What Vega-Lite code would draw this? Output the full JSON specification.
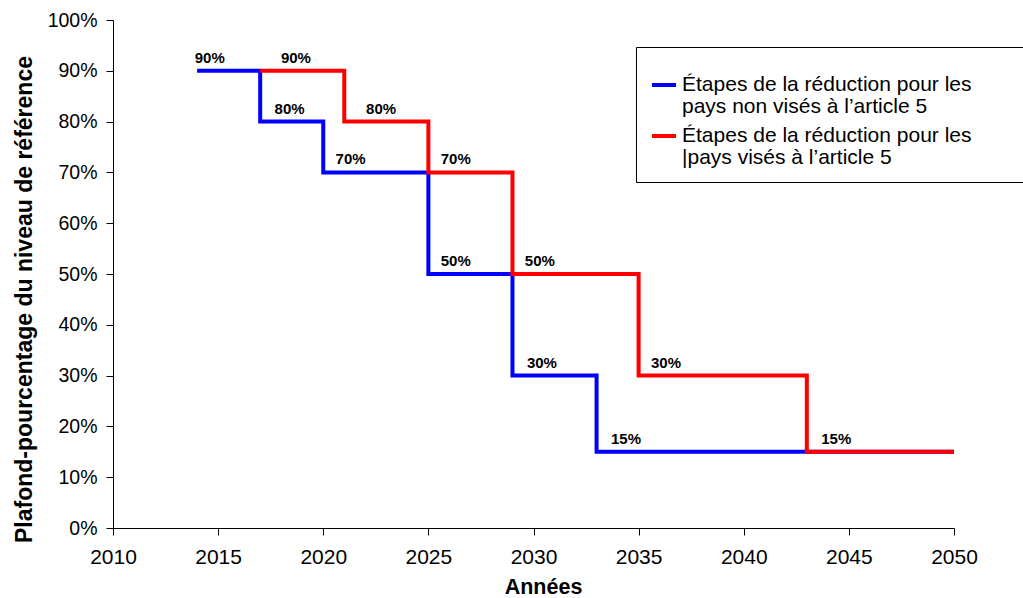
{
  "$schema": "https://vega.github.io/schema/vega-lite/v6.json",
  "width": 841,
  "height": 508,
  "autosize": "none",
  "padding": {"left": 113, "top": 20, "right": 69, "bottom": 70},
  "background": "white",
  "config": {
    "view": {"stroke": null},
    "font": "Liberation Sans",
    "style": {"guide-label": {"lineHeight": 22}},
    "axis": {
      "grid": false,
      "domainColor": "black",
      "tickColor": "black",
      "labelColor": "black",
      "titleColor": "black",
      "labelFont": "Liberation Sans",
      "titleFont": "Liberation Sans",
      "titleFontWeight": "bold",
      "tickSize": 7,
      "labelFlush": false,
      "labelOverlap": false
    }
  },
  "datasets": {
    "steps": [
      {"series": "Étapes de la réduction pour les\npays non visés à l’article 5", "year": 2014, "value": 0.9},
      {"series": "Étapes de la réduction pour les\npays non visés à l’article 5", "year": 2017, "value": 0.8},
      {"series": "Étapes de la réduction pour les\npays non visés à l’article 5", "year": 2020, "value": 0.7},
      {"series": "Étapes de la réduction pour les\npays non visés à l’article 5", "year": 2025, "value": 0.5},
      {"series": "Étapes de la réduction pour les\npays non visés à l’article 5", "year": 2029, "value": 0.3},
      {"series": "Étapes de la réduction pour les\npays non visés à l’article 5", "year": 2033, "value": 0.15},
      {"series": "Étapes de la réduction pour les\npays non visés à l’article 5", "year": 2050, "value": 0.15},
      {"series": "Étapes de la réduction pour les\n|pays visés à l’article 5", "year": 2017, "value": 0.9},
      {"series": "Étapes de la réduction pour les\n|pays visés à l’article 5", "year": 2021, "value": 0.8},
      {"series": "Étapes de la réduction pour les\n|pays visés à l’article 5", "year": 2025, "value": 0.7},
      {"series": "Étapes de la réduction pour les\n|pays visés à l’article 5", "year": 2029, "value": 0.5},
      {"series": "Étapes de la réduction pour les\n|pays visés à l’article 5", "year": 2035, "value": 0.3},
      {"series": "Étapes de la réduction pour les\n|pays visés à l’article 5", "year": 2043, "value": 0.15},
      {"series": "Étapes de la réduction pour les\n|pays visés à l’article 5", "year": 2050, "value": 0.15}
    ],
    "labels": [
      {"labelYear": 2014.6, "value": 0.9},
      {"labelYear": 2018.4, "value": 0.8},
      {"labelYear": 2021.3, "value": 0.7},
      {"labelYear": 2026.3, "value": 0.5},
      {"labelYear": 2030.4, "value": 0.3},
      {"labelYear": 2034.4, "value": 0.15},
      {"labelYear": 2018.7, "value": 0.9},
      {"labelYear": 2022.75, "value": 0.8},
      {"labelYear": 2026.3, "value": 0.7},
      {"labelYear": 2030.3, "value": 0.5},
      {"labelYear": 2036.3, "value": 0.3},
      {"labelYear": 2044.4, "value": 0.15}
    ]
  },
  "layer": [
    {
      "data": {"name": "steps"},
      "mark": {"type": "line", "interpolate": "step-after", "strokeWidth": 4},
      "encoding": {
        "x": {
          "field": "year", "type": "quantitative",
          "scale": {"domain": [2010, 2050], "nice": false, "zero": false},
          "axis": {
            "title": "Années",
            "values": [2010, 2015, 2020, 2025, 2030, 2035, 2040, 2045, 2050],
            "format": "d",
            "labelFontSize": 21,
            "labelPadding": 11,
            "titleFontSize": 21.5,
            "titlePadding": 9,
            "titleX": 430
          }
        },
        "y": {
          "field": "value", "type": "quantitative",
          "scale": {"domain": [0, 1], "nice": false},
          "axis": {
            "title": "Plafond-pourcentage du niveau de référence",
            "values": [0, 0.1, 0.2, 0.3, 0.4, 0.5, 0.6, 0.7, 0.8, 0.9, 1],
            "format": ".0%",
            "labelFontSize": 19.5,
            "labelPadding": 9,
            "titleFontSize": 23,
            "titlePadding": 11,
            "titleY": 279
          }
        },
        "color": {
          "field": "series", "type": "nominal",
          "scale": {
            "domain": ["Étapes de la réduction pour les\npays non visés à l’article 5", "Étapes de la réduction pour les\n|pays visés à l’article 5"],
            "range": ["#0000FF", "#FF0000"]
          },
          "legend": {
            "orient": "none",
            "legendX": 523,
            "legendY": 27,
            "title": "\u2800",
            "titleFontSize": 6,
            "titlePadding": 4,
            "strokeColor": "black",
            "fillColor": "white",
            "padding": 14,
            "labelFontSize": 21,
            "labelFont": "Liberation Sans",
            "labelColor": "black",
            "labelLimit": 0,
            "labelExpr": "[split(datum.label, '\\n')[0] + '\u2800\u2800\u2800', split(datum.label, '\\n')[1]]",
            "labelBaseline": "middle",
            "symbolType": "stroke",
            "symbolStrokeWidth": 4,
            "symbolSize": 576,
            "labelOffset": 4,
            "rowPadding": 5
          }
        }
      }
    },
    {
      "data": {"name": "labels"},
      "mark": {"type": "text", "fontWeight": "bold", "fontSize": 15, "baseline": "alphabetic", "dy": -8, "color": "black"},
      "encoding": {
        "x": {"field": "labelYear", "type": "quantitative"},
        "y": {"field": "value", "type": "quantitative"},
        "text": {"field": "value", "type": "quantitative", "format": ".0%"}
      }
    }
  ]
}
